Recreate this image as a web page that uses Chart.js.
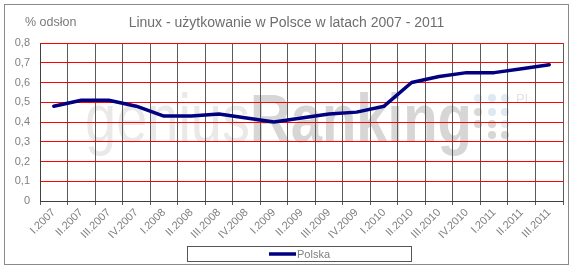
<!DOCTYPE html>
<html>
<head>
<meta charset="utf-8">
<script src="https://cdn.jsdelivr.net/npm/chart.js@4"></script>
<style>
html,body{margin:0;padding:0;background:#fff;}
canvas{display:block;}
</style>
</head>
<body>
<canvas id="c" width="573" height="277"></canvas>
<script>
const categories = ['I.2007','II.2007','III.2007','IV.2007','I.2008','II.2008','III.2008','IV.2008','I.2009','II.2009','III.2009','IV.2009','I.2010','II.2010','III.2010','IV.2010','I.2011','II.2011','III.2011'];
const polska = [0.48,0.51,0.51,0.48,0.43,0.43,0.44,0.42,0.40,0.42,0.44,0.45,0.48,0.60,0.63,0.65,0.65,0.67,0.69];
const yTickLabels = ['0','0,1','0,2','0,3','0,4','0,5','0,6','0,7','0,8'];
const titleText = 'Linux - użytkowanie w Polsce w latach 2007 - 2011';
const yUnitText = '% odsłon';
const seriesName = 'Polska';

const FONT = '"Liberation Sans", Arial, sans-serif';

const decor = {
  id: 'decor',
  beforeDraw(chart) {
    const ctx = chart.ctx;
    ctx.save();
    ctx.fillStyle = '#ffffff';
    ctx.fillRect(0, 0, chart.width, chart.height);
    // frame
    ctx.strokeStyle = '#8a8a8a';
    ctx.lineWidth = 1;
    ctx.strokeRect(4.5, 4.5, 564, 260);
    // watermark
    ctx.textBaseline = 'alphabetic';
    ctx.textAlign = 'left';
    ctx.fillStyle = '#e9e9e9';
    ctx.font = '68px ' + FONT;
    ctx.fillText('genius', 85, 142, 165);
    ctx.fillStyle = '#d6d6d6';
    ctx.font = 'bold 68px ' + FONT;
    ctx.fillText('Ranking', 250, 142, 222);
    const dots = [
      [478, 98, '#e3ebf2'], [492, 98, '#dce8f2'], [505, 98, '#e3ebf2'],
      [478, 112, '#d9d9d9'], [492, 112, '#dce8f2'], [505, 112, '#dce8f2'],
      [478, 124, '#d6d6d6'], [492, 124, '#d6d6d6'], [505, 124, '#e3ebf2'],
      [492, 135, '#d6d6d6'], [505, 135, '#d6d6d6']
    ];
    dots.forEach(d => {
      ctx.fillStyle = d[2];
      ctx.beginPath();
      ctx.arc(d[0], d[1], 4, 0, Math.PI * 2);
      ctx.fill();
    });
    ctx.fillStyle = '#e2e2e2';
    ctx.font = '13px ' + FONT;
    ctx.fillText('PL', 516, 103);
    ctx.restore();
  },
  afterDraw(chart) {
    const ctx = chart.ctx;
    ctx.save();
    // title
    ctx.fillStyle = '#6e6e6e';
    ctx.textBaseline = 'middle';
    ctx.textAlign = 'center';
    ctx.font = '14px ' + FONT;
    ctx.fillText(titleText, 286.5, 23);
    // unit label
    ctx.textAlign = 'left';
    ctx.fillStyle = '#7a7a7a';
    ctx.font = '12.5px ' + FONT;
    ctx.fillText(yUnitText, 25, 23);
    // legend
    const ds = chart.data.datasets[0];
    ctx.strokeStyle = '#555555';
    ctx.lineWidth = 1;
    ctx.strokeRect(187.5, 246.5, 224, 15);
    ctx.strokeStyle = ds.borderColor;
    ctx.lineWidth = 3.5;
    ctx.beginPath();
    ctx.moveTo(269, 254);
    ctx.lineTo(296, 254);
    ctx.stroke();
    ctx.fillStyle = '#808080';
    ctx.font = '11px ' + FONT;
    ctx.fillText(ds.label, 297, 254.5);
    ctx.restore();
  }
};

new Chart(document.getElementById('c'), {
  type: 'line',
  data: {
    labels: categories,
    datasets: [{
      label: seriesName,
      data: polska,
      borderColor: '#000080',
      backgroundColor: '#000080',
      borderWidth: 3.5,
      pointRadius: 0,
      tension: 0,
      fill: false,
      borderJoinStyle: 'round',
      borderCapStyle: 'round'
    }]
  },
  options: {
    responsive: false,
    animation: false,
    devicePixelRatio: 1,
    layout: { padding: { left: 0, right: 10, top: 43, bottom: 0 } },
    plugins: {
      legend: { display: false },
      tooltip: { enabled: false },
      title: { display: false }
    },
    scales: {
      x: {
        offset: true,
        grid: { offset: true, color: '#5a5a5a', lineWidth: 1, tickLength: 4, tickColor: '#5a5a5a' },
        border: { color: '#404040', width: 1 },
        ticks: {
          autoSkip: false, maxRotation: 45, minRotation: 45,
          color: '#808080', font: { family: FONT, size: 11 }, padding: 1
        },
        afterFit(s) { s.height = 76; }
      },
      y: {
        min: 0, max: 0.8,
        ticks: {
          stepSize: 0.1,
          callback: (v, i) => yTickLabels[i],
          color: '#808080', font: { family: FONT, size: 11 }, padding: 10
        },
        grid: { color: '#ff0000', lineWidth: 1, drawTicks: false },
        border: { color: '#404040', width: 1 },
        afterFit(s) { s.width = 40; }
      }
    }
  },
  plugins: [decor]
});
</script>
</body>
</html>
